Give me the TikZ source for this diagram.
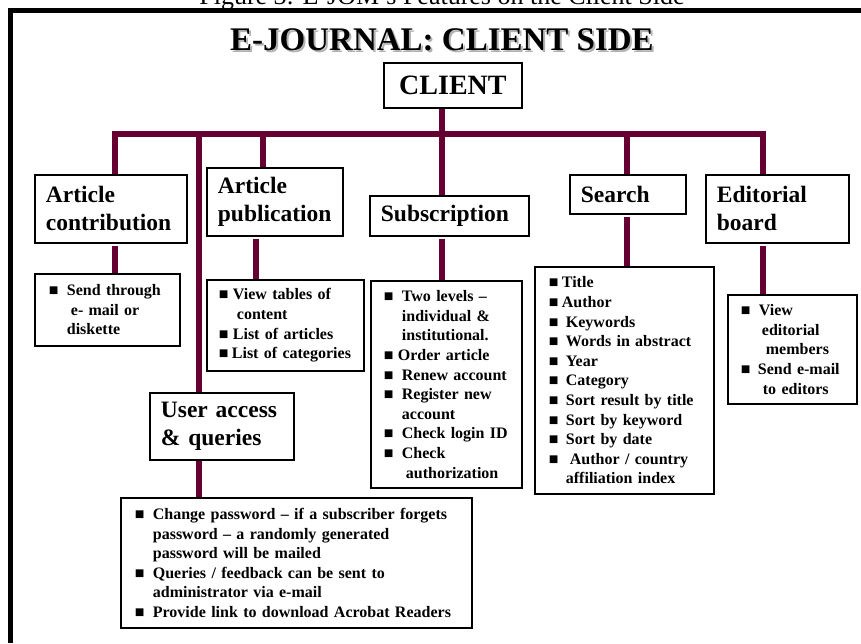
\documentclass[tikz,border=0pt]{standalone}
\usepackage{fontspec}
\setmainfont{Liberation Serif}
\definecolor{maroon}{HTML}{660033}
\hyphenpenalty=10000
\exhyphenpenalty=10000
\newcommand{\bu}[1][18]{\makebox[#1pt][l]{■}}
\begin{document}
\begin{tikzpicture}[x=1pt,y=-1pt,
  head/.style={draw, line width=1.8pt, anchor=north west, align=left, inner xsep=11pt, inner ysep=0pt, font=\fontsize{23.5}{28}\selectfont\bfseries},
  list/.style={draw, line width=1.8pt, anchor=north west, align=left, inner xsep=13pt, inner ysep=0pt, font=\fontsize{16}{19.6}\selectfont\bfseries},
  link/.style={maroon, line width=6pt}]
\useasboundingbox (0,0) rectangle (861,643);
% frame and titles
\draw[line width=5pt] (10.5,643) -- (10.5,10.5) -- (861,10.5);
\node (caption) [anchor=base, font=\fontsize{26}{28}\selectfont] at (442,4) {Figure 3: E-JOM's Features on the Client Side};
\node (shadow) [anchor=base, text=black!30, font=\fontsize{33}{36}\selectfont\bfseries] at (444,52) {E-JOURNAL: CLIENT SIDE};
\node (title) [anchor=base, font=\fontsize{33}{36}\selectfont\bfseries] at (442,50) {E-JOURNAL: CLIENT SIDE};
\node (client) [draw, line width=1.8pt, anchor=north west, minimum width=138pt, minimum height=45pt, font=\fontsize{28}{30}\selectfont\bfseries] at (383,62) {CLIENT};
% main boxes
\node (contrib) [head, text width=130pt, minimum height=68pt] at (34,174) {Article\\contribution};
\node (publ) [head, text width=114pt, minimum height=68pt] at (206,167) {Article\\publication};
\node (subs) [head, text width=137pt, minimum height=40pt] at (369,195) {Subscription};
\node (search) [head, text width=94pt, minimum height=39pt] at (569,174) {Search};
\node (edit) [head, text width=121pt, minimum height=68pt] at (705,174) {Editorial\\board};
\node (user) [head, text width=122pt, minimum height=67pt] at (149,392) {User access\\\& queries};
% lists
\node (contribList) [list, inner xsep=14pt, text width=117pt, minimum height=72pt] at (34,273) {\bu Send through\\\hspace*{22pt}e- mail or\\\hspace*{18pt}diskette};
\node (publList) [list, inner xsep=12pt, text width=133pt, minimum height=91pt] at (206,279) {\bu[14]View tables of\\\hspace*{18pt}content\\\bu[14]List of articles\\\bu[13]\mbox{List of categories}};
\node (subsList) [list, text width=125pt, minimum height=207pt] at (370,280) {\bu Two levels --\\\hspace*{18pt}individual \&\\\hspace*{18pt}institutional.\\\bu[14]Order article\\\bu Renew account\\\bu Register new\\\hspace*{18pt}account\\\bu Check login ID\\\bu Check\\\hspace*{22pt}authorization};
\node (searchList) [list, inner xsep=14pt, text width=151pt, minimum height=227pt] at (534,266) {\bu[13]Title\\\bu[13]Author\\\bu[17]Keywords\\\bu[17]Words in abstract\\\bu[17]Year\\\bu[17]Category\\\bu[17]Sort result by title\\\bu[17]Sort by keyword\\\bu[17]Sort by date\\\bu[21]Author / country\\\hspace*{17pt}affiliation index};
\node (editList) [list, text width=103pt, minimum height=109pt] at (727,294) {\bu View\\\hspace*{21pt}editorial\\\hspace*{25pt}members\\\bu[17]Send e-mail\\\hspace*{22pt}to editors};
\node (userList) [list, inner xsep=14pt, text width=323pt, minimum height=130pt] at (120,497) {\bu Change password -- if a subscriber forgets\\\hspace*{18pt}password -- a randomly generated\\\hspace*{18pt}password will be mailed\\\bu Queries / feedback can be sent to\\\hspace*{18pt}administrator via e-mail\\\bu Provide link to download Acrobat Readers};
% bus and drops
\coordinate (bA) at (114.5,133.5);
\coordinate (bB) at (199,133.5);
\coordinate (bC) at (263,133.5);
\coordinate (bD) at (442,133.5);
\coordinate (bE) at (627,133.5);
\coordinate (bF) at (763,133.5);
\coordinate (pubDrop) at (256,250);
\draw[link] (contrib.north -| bA) -- (bA) -- (bF) -- (edit.north -| bF);
\draw[link] (client.south -| bD) -- (bD);
\draw[link] (bB) -- (user.north -| bB);
\draw[link] (bC) -- (publ.north -| bC);
\draw[link] (bD) -- (subs.north -| bD);
\draw[link] (bE) -- (search.north -| bE);
\draw[link, shorten <=2pt] (contrib.south -| bA) -- (contribList.north -| bA);
\draw[link, shorten <=2pt] (publ.south -| pubDrop) -- (publList.north -| pubDrop);
\draw[link, shorten <=2pt] (subs.south -| bD) -- (subsList.north -| bD);
\draw[link, shorten <=2pt] (search.south -| bE) -- (searchList.north -| bE);
\draw[link, shorten <=2pt] (edit.south -| bF) -- (editList.north -| bF);
\draw[link] (user.south -| bB) -- (userList.north -| bB);
\end{tikzpicture}
\end{document}
